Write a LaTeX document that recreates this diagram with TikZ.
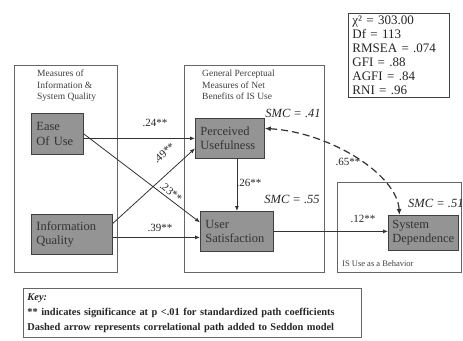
\documentclass[tikz,border=0pt]{standalone}
\usepackage{fontspec}
\setmainfont{Liberation Serif}
\usetikzlibrary{arrows.meta,calc}
\begin{document}
\begin{tikzpicture}[x=1pt,y=-1pt,
  outerbox/.style={draw=black!60, line width=0.9pt, inner sep=0pt, anchor=north west},
  varbox/.style={draw=black!75, line width=0.8pt, fill=black!42, text=black!80, font=\fontsize{12.5}{14.5}\selectfont, align=left, inner xsep=5pt, inner ysep=0pt, anchor=north west},
  heading/.style={font=\fontsize{9.5}{11.5}\selectfont, align=left, anchor=north west, inner sep=0pt, text=black!75},
  coef/.style={font=\fontsize{11}{13}\selectfont, inner sep=0.5pt, text=black!85},
  smc/.style={font=\itshape\fontsize{12.5}{14}\selectfont, inner sep=0pt, text=black!85},
  pathline/.style={draw=black!80, line width=0.8pt, -{Latex[length=5pt,width=4pt]}},
  corrline/.style={draw=black!80, line width=1.2pt, dash pattern=on 7pt off 4pt, {Latex[length=6pt,width=5pt]}-{Latex[length=6pt,width=5pt]}},
]
\useasboundingbox (0,0) rectangle (463,340);
\fill[white] (0,0) rectangle (463,340);

% outer group boxes
\node[outerbox, minimum width=103, minimum height=207] (lbox) at (14,65) {};
\node[outerbox, minimum width=140, minimum height=207] (mbox) at (184,65) {};
\node[outerbox, minimum width=124, minimum height=90] (rbox) at (337,182) {};

% headings
\node[heading] (lhead) at (37,70) {Measures of\\Information \&\\System Quality};
\node[heading] (mhead) at (202,70) {General Perceptual\\Measures of Net\\Benefits of IS Use};
\node[heading, font=\fontsize{8.5}{10}\selectfont, anchor=west] (rhead) at (342,264) {IS Use as a Behavior};

% variable boxes
\node[varbox, text width=42, minimum height=41] (eou) at (31,113) {Ease\\Of Use};
\node[varbox, text width=71, minimum height=40] (iq) at (31,214) {Information\\Quality};
\node[varbox, text width=59, minimum height=40] (pu) at (195,118) {Perceived\\Usefulness};
\node[varbox, text width=63, minimum height=40] (us) at (200,211) {User\\Satisfaction};
\node[varbox, text width=62, inner xsep=4pt, minimum height=35] (sd) at (388,215) {System\\Dependence};

% paths
\draw[pathline] (eou.east |- pu.west) -- (pu.west);
\draw[pathline] (eou.east) -- ($(us.west)+(0,-9)$);
\draw[pathline] ($(iq.east)+(0,-11)$) -- ($(pu.west)+(0,10)$);
\draw[pathline] ($(iq.east)+(0,3)$) -- ($(us.west)+(0,6)$);
\draw[pathline] (us.north |- pu.south) -- (us.north);
\draw[pathline] (us.east) -- (sd.west |- us.east);
\draw[corrline] ($(pu.east)+(0,-10)$) .. controls +(66,4) and +(-2,-40) .. ($(sd.north)+(-24,0)$);

% coefficients
\node[coef] (c24) at (155,123) {.24**};
\node[coef, rotate=42] (c49) at (164,153) {.49**};
\node[coef, rotate=-38] (c23) at (171,192) {.23**};
\node[coef] (c39) at (160,228) {.39**};
\node[coef] (c26) at (249,183) {.26**};
\node[coef] (c65) at (348,162) {.65**};
\node[coef] (c12) at (363,219) {.12**};

% SMC
\node[smc] (smc41) at (293,113) {SMC = .41};
\node[smc] (smc55) at (292,199) {SMC = .55};
\node[smc, anchor=west] (smc51) at (408,203) {SMC = .51};

% fit statistics
\node[draw=black!75, line width=0.9pt, anchor=north west, align=left, text width=93, inner xsep=4pt, inner ysep=2.5pt, font=\fontsize{13}{14}\selectfont, text=black!85] (fit) at (348,13)
  {χ² = 303.00\\Df = 113\\RMSEA = .074\\GFI = .88\\AGFI = .84\\RNI = .96};

% key
\node[draw=black!60, line width=0.9pt, anchor=north west, align=left, text width=330, inner xsep=4pt, inner ysep=3pt, minimum height=49, font=\bfseries\fontsize{10.4}{15}\selectfont, text=black!85] (key) at (23,288)
  {\textit{Key:}\\{}** indicates significance at p <.01 for standardized path coefficients\\{}Dashed arrow represents correlational path added to Seddon model};
\end{tikzpicture}
\end{document}
